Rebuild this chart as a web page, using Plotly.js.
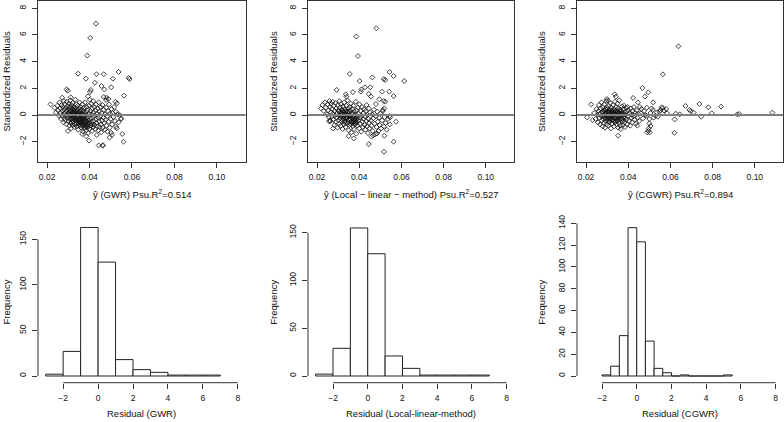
<!DOCTYPE html>
<html><head><meta charset="utf-8">
<script src="https://cdn.plot.ly/plotly-3.0.1.min.js"></script>
<style>html,body{margin:0;padding:0;background:#fff}#chart{width:784px;height:422px}</style>
</head><body><div id="chart"></div>
<script>
// ---------- data: standardized residuals vs fitted (x = y-hat, y = std residual) ----------
const gwrOutliers = [[0.0430,6.85],[0.0403,5.78],[0.0389,4.45],[0.0346,3.1],[0.0383,2.72],[0.0433,3.06],[0.0467,3.06],[0.0537,3.23],[0.0584,2.78],[0.0589,2.7],[0.0510,2.72],[0.0425,2.42],[0.0456,2.18],[0.0502,2.08],[0.0470,1.92],[0.0406,1.88],[0.0402,1.73],[0.0292,1.92],[0.0298,1.82],[0.0562,1.45],[0.0480,1.3],[0.0489,1.2],[0.0478,1.12],[0.0271,1.3],[0.0311,1.33],[0.0522,1.0],[0.0529,0.88],[0.0216,0.8],[0.0467,1.35],[0.0443,-2.28],[0.0462,-2.3],[0.0463,-2.25],[0.0560,-2.0],[0.0554,-1.42],[0.0506,-1.5],[0.0502,-1.33],[0.0398,-1.92],[0.0494,-1.68],[0.0549,-0.25],[0.0525,-0.88],[0.0385,-1.6],[0.0393,-1.35],[0.0365,-1.42]];
const gwrCluster = [[0.0235,0.55],[0.0242,0.2],[0.0248,0.7],[0.0251,0.35],[0.0255,-0.05],[0.0258,0.95],[0.0262,0.5],[0.0264,0.15],[0.0266,-0.3],[0.0268,0.75],
[0.0271,0.3],[0.0273,-0.1],[0.0274,0.6],[0.0276,0.05],[0.0277,-0.55],[0.0279,1.05],[0.0281,0.4],[0.0282,-0.25],[0.0283,0.8],[0.0285,0.15],[0.0286,-0.4],[0.0287,0.55],[0.0289,-0.05],[0.0291,-0.7],[0.0292,0.3],[0.0293,1.0],[0.0295,-0.2],[0.0296,0.65],[0.0298,-1.2],[0.0299,0.1],
[0.0300,0.45],[0.0301,-0.45],[0.0302,0.85],[0.0303,-0.1],[0.0304,0.2],[0.0305,-0.8],[0.0306,0.6],[0.0307,0.0],[0.0308,-0.3],[0.0309,1.1],[0.0310,0.35],[0.0311,-0.6],[0.0312,0.1],[0.0313,-1.0],[0.0314,0.75],[0.0315,-0.2],[0.0316,0.5],[0.0317,-0.4],[0.0318,0.25],[0.0319,-0.05],[0.0320,0.9],[0.0321,-0.75],[0.0322,0.4],[0.0323,-0.25],[0.0324,0.05],[0.0325,0.65],[0.0326,-0.5],[0.0327,0.15],[0.0328,-0.9],[0.0329,0.3],
[0.0330,-0.15],[0.0331,0.55],[0.0332,-0.4],[0.0333,1.15],[0.0334,0.0],[0.0335,-0.65],[0.0336,0.25],[0.0337,-0.3],[0.0338,0.8],[0.0339,-0.05],[0.0340,-0.85],[0.0341,0.4],[0.0342,-0.2],[0.0343,0.1],[0.0344,-0.55],[0.0345,0.7],[0.0346,-1.1],[0.0347,-0.35],[0.0348,0.2],[0.0349,-0.7],[0.0350,0.5],[0.0351,-0.1],[0.0352,-0.45],[0.0353,0.95],[0.0354,0.05],[0.0355,-0.8],[0.0356,0.3],[0.0357,-0.25],[0.0358,-0.6],[0.0359,0.6],
[0.0360,-0.95],[0.0361,0.15],[0.0362,-0.4],[0.0363,0.4],[0.0364,-0.15],[0.0365,-0.7],[0.0366,0.8],[0.0367,-0.3],[0.0368,0.05],[0.0369,-1.25],[0.0370,-0.55],[0.0371,0.3],[0.0372,-0.85],[0.0373,-0.1],[0.0374,0.55],[0.0375,-0.45],[0.0376,-1.0],[0.0377,0.1],[0.0378,-0.65],[0.0379,0.95],[0.0380,-0.3],[0.0381,-0.8],[0.0382,0.25],[0.0383,-0.5],[0.0384,-1.15],[0.0385,0.0],[0.0386,0.6],[0.0387,-0.75],[0.0388,-0.2],[0.0389,-0.95],
[0.0390,0.35],[0.0392,-0.6],[0.0393,1.4],[0.0394,-0.1],[0.0395,-0.85],[0.0397,0.7],[0.0398,-0.4],[0.0399,0.1],[0.0400,-1.05],[0.0401,1.15],[0.0402,-0.65],[0.0404,0.3],[0.0405,-0.25],[0.0406,-0.8],[0.0408,0.85],[0.0409,-0.5],[0.0410,0.05],[0.0412,-1.2],[0.0413,0.5],[0.0414,-0.7],[0.0416,-0.15],[0.0417,1.05],[0.0418,-0.9],[0.0419,0.2],
[0.0420,-0.45],[0.0422,0.6],[0.0424,-0.75],[0.0425,-0.05],[0.0427,-1.05],[0.0428,0.35],[0.0430,-0.3],[0.0431,0.8],[0.0433,-0.6],[0.0434,-1.5],[0.0436,0.1],[0.0437,-0.85],[0.0439,0.5],[0.0440,-0.2],[0.0442,-1.15],[0.0443,0.95],[0.0445,-0.5],[0.0446,0.25],[0.0448,-0.9],[0.0450,-0.1],[0.0452,0.6],[0.0453,-0.7],[0.0455,-1.3],[0.0457,0.15],[0.0459,-0.4],
[0.0461,0.75],[0.0463,-0.95],[0.0465,-0.2],[0.0467,0.4],[0.0469,-0.6],[0.0471,-1.1],[0.0473,0.05],[0.0476,-0.35],[0.0478,0.55],[0.0480,-0.8],[0.0483,-0.1],[0.0485,-1.25],[0.0487,0.3],[0.0490,-0.5],[0.0492,0.8],[0.0495,-0.95],[0.0497,0.1],[0.0500,-0.3],[0.0503,0.45],[0.0506,-0.7],[0.0509,0.15],[0.0512,-0.15],[0.0516,0.6],[0.0520,-0.45],[0.0524,0.25],[0.0528,-1.0],[0.0532,0.05],[0.0537,-0.55],[0.0542,0.0],[0.0548,-0.3],
[0.0305,0.05],[0.0308,0.3],[0.0312,-0.35],[0.0316,0.0],[0.0318,-0.55],[0.0322,0.15],[0.0325,-0.15],[0.0328,0.45],[0.0331,-0.7],[0.0333,-0.25],[0.0336,0.1],[0.0339,-0.45],[0.0342,0.35],[0.0344,-0.05],[0.0347,-0.6],[0.0350,0.15],[0.0352,-0.3],[0.0355,-0.55],[0.0358,0.05],[0.0361,-0.6],[0.0364,-0.35],[0.0367,-0.8],[0.0370,-0.2],[0.0373,-0.6],[0.0376,-0.35],[0.0380,-0.6],[0.0383,-0.85],[0.0386,-0.45],[0.0390,-0.7],[0.0395,-0.55]];

const llmOutliers = [[0.0481,6.5],[0.0386,5.88],[0.0394,4.42],[0.0355,3.08],[0.0544,3.22],[0.0563,2.92],[0.0613,2.55],[0.0402,2.55],[0.0462,2.82],[0.0516,2.7],[0.0523,2.63],[0.0427,2.08],[0.0452,2.08],[0.0293,1.88],[0.0508,1.75],[0.0542,1.75],[0.0410,1.92],[0.0408,1.75],[0.0370,1.72],[0.0563,1.42],[0.0445,1.58],[0.0456,1.38],[0.0336,1.55],[0.0339,1.38],[0.0495,1.18],[0.0516,1.05],[0.0524,1.0],[0.0479,0.82],[0.0519,0.5],[0.0512,0.38],[0.0574,-0.5],[0.0544,-0.08],[0.0546,-0.18],[0.0563,-2.0],[0.0445,-2.18],[0.0517,-2.75],[0.0519,-1.55],[0.0458,-1.62],[0.0466,-1.52],[0.0484,-1.38],[0.0374,-1.75],[0.0350,-1.58],[0.0276,-1.0],[0.0260,-0.4],[0.0258,-0.48]];
const llmCluster = [[0.0218,0.5],[0.0225,0.75],[0.0232,0.3],[0.0238,0.95],[0.0242,0.55],[0.0246,0.05],[0.0250,0.8],[0.0253,0.35],[0.0256,-0.15],[0.0259,1.05],[0.0261,0.6],[0.0263,-0.45],[0.0265,0.2],[0.0267,0.85],[0.0269,-0.1],
[0.0271,0.45],[0.0273,1.0],[0.0275,0.1],[0.0277,-0.35],[0.0279,0.7],[0.0281,-0.75],[0.0283,0.3],[0.0285,-0.05],[0.0287,0.9],[0.0289,-0.5],[0.0291,0.5],[0.0293,-0.2],[0.0295,0.15],[0.0297,-0.95],[0.0299,0.75],
[0.0300,-0.4],[0.0302,0.35],[0.0303,0.0],[0.0305,1.05],[0.0306,-0.65],[0.0308,0.55],[0.0309,-0.25],[0.0311,0.2],[0.0312,-0.8],[0.0314,0.8],[0.0315,-0.1],[0.0317,0.4],[0.0318,-0.5],[0.0320,0.05],[0.0321,-1.05],[0.0323,0.65],[0.0324,-0.3],[0.0326,0.25],[0.0327,-0.7],[0.0329,0.95],
[0.0330,-0.05],[0.0332,0.45],[0.0333,-0.45],[0.0335,0.1],[0.0336,-0.9],[0.0338,0.7],[0.0339,-0.2],[0.0341,0.3],[0.0342,-0.6],[0.0344,1.1],[0.0345,0.0],[0.0347,-0.35],[0.0348,0.5],[0.0350,-1.15],[0.0351,-0.1],[0.0353,0.2],[0.0354,-0.75],[0.0356,0.6],[0.0357,-0.4],[0.0359,-0.05],
[0.0360,0.85],[0.0362,-0.55],[0.0363,-1.3],[0.0365,0.15],[0.0366,-0.25],[0.0368,0.45],[0.0369,-0.85],[0.0371,-0.1],[0.0372,0.7],[0.0374,-0.5],[0.0375,-1.05],[0.0377,0.25],[0.0378,-0.3],[0.0380,-0.7],[0.0381,0.05],[0.0383,1.0],[0.0384,-0.45],[0.0386,-1.4],[0.0387,0.35],[0.0389,-0.15],
[0.0391,-0.8],[0.0393,0.55],[0.0395,-0.4],[0.0397,0.1],[0.0399,-1.0],[0.0401,0.8],[0.0403,-0.2],[0.0405,-0.65],[0.0407,0.3],[0.0409,-1.25],[0.0411,-0.05],[0.0413,0.6],[0.0415,-0.5],[0.0417,-0.9],[0.0419,0.15],
[0.0421,-0.3],[0.0423,0.45],[0.0425,-0.75],[0.0427,-0.1],[0.0429,-1.1],[0.0431,0.3],[0.0433,-0.45],[0.0435,0.75],[0.0437,-0.85],[0.0439,0.0],[0.0441,-1.35],[0.0443,-0.3],[0.0445,0.5],[0.0447,-0.6],[0.0449,-1.0],
[0.0452,0.2],[0.0455,-0.4],[0.0458,-0.8],[0.0461,0.05],[0.0464,-1.2],[0.0467,-0.25],[0.0470,0.4],[0.0473,-0.65],[0.0476,-1.45],[0.0479,-0.1],[0.0482,-0.9],[0.0485,0.25],[0.0488,-0.5],[0.0491,-1.2],[0.0494,-0.2],[0.0497,-0.75],[0.0500,0.1],[0.0504,-1.0],[0.0508,-0.4],[0.0512,0.3],[0.0516,-0.85],[0.0520,-0.15],[0.0525,-0.6],[0.0530,-1.1],[0.0536,-0.3],[0.0545,-0.7],
[0.0304,0.25],[0.0310,-0.05],[0.0316,0.15],[0.0319,-0.35],[0.0322,0.3],[0.0325,-0.15],[0.0328,0.05],[0.0331,-0.55],[0.0334,0.3],[0.0337,-0.3],[0.0340,0.05],[0.0343,-0.2],[0.0346,0.25],[0.0349,-0.55],[0.0352,0.0],[0.0355,-0.25],[0.0358,0.35],[0.0361,-0.7],[0.0364,-0.1],[0.0367,-0.5],[0.0370,0.1],[0.0373,-0.35],[0.0376,-0.6],[0.0379,-0.15],[0.0382,-0.55],[0.0385,-0.3],[0.0388,-0.6],[0.0392,-0.25]];

const cgwrOutliers = [[0.0638,5.15],[0.0564,3.05],[0.0467,2.03],[0.0495,1.7],[0.0479,1.38],[0.0423,1.28],[0.0518,0.95],[0.0446,0.95],[0.0336,1.55],[0.0341,1.38],[0.0299,1.2],[0.0305,1.08],[0.0224,0.8],[0.0737,0.83],[0.0671,0.68],[0.0780,0.58],[0.0840,0.63],[0.0690,0.38],[0.0697,0.3],[0.0710,0.18],[0.0796,0.13],[0.0746,-0.13],[0.1083,0.18],[0.0917,0.05],[0.0926,0.08],[0.0625,0.1],[0.0644,0.05],[0.0620,-0.33],[0.0619,-1.33],[0.0352,-1.55],[0.0495,-1.18],[0.0490,-1.3],[0.0502,-1.3],[0.0497,-1.0],[0.0443,-0.8],[0.0205,-0.18],[0.0231,-0.38],[0.0553,0.38],[0.0569,0.33],[0.0580,0.45],[0.0558,0.58],[0.0564,0.52],[0.0584,0.13],[0.0529,-0.05],[0.0540,-0.13],[0.0510,0.5],[0.0517,0.38],[0.0500,-0.3],[0.0500,-0.63],[0.0506,-0.83],[0.0480,0.0],[0.0486,-0.05],[0.0460,0.13],[0.0432,-0.05],[0.0470,-0.25],[0.0475,0.3],[0.0455,0.6],[0.0462,0.45],[0.0488,0.55],[0.0505,0.15],[0.0520,-0.2],[0.0535,0.2],[0.0548,0.25]];
const cgwrCluster = [[0.0238,0.15],[0.0245,-0.3],[0.0250,0.45],[0.0254,0.0],[0.0257,-0.55],[0.0259,0.3],[0.0261,0.75],[0.0263,-0.2],[0.0265,0.1],[0.0267,-0.7],[0.0269,0.5],[0.0271,-0.05],[0.0273,0.95],[0.0275,-0.4],[0.0276,0.25],[0.0278,-0.85],[0.0279,0.6],[0.0281,0.0],[0.0282,-0.3],[0.0284,0.35],
[0.0285,-0.6],[0.0286,0.8],[0.0288,0.1],[0.0289,-0.15],[0.0290,-0.95],[0.0292,0.45],[0.0293,-0.45],[0.0294,0.2],[0.0296,1.05],[0.0297,-0.1],[0.0298,-0.7],[0.0300,0.55],[0.0301,0.05],[0.0302,-0.35],[0.0304,0.3],[0.0305,-0.8],[0.0306,0.7],[0.0308,-0.2],[0.0309,0.15],[0.0310,-0.55],
[0.0312,0.4],[0.0313,-0.05],[0.0314,0.9],[0.0316,-0.4],[0.0317,0.2],[0.0318,-1.0],[0.0320,0.55],[0.0321,-0.25],[0.0322,0.05],[0.0324,-0.65],[0.0325,0.35],[0.0326,-0.1],[0.0328,0.75],[0.0329,-0.45],[0.0330,0.15],[0.0332,-0.85],[0.0333,0.45],[0.0334,-0.2],[0.0336,0.0],[0.0337,1.0],
[0.0338,-0.55],[0.0340,0.3],[0.0341,-0.3],[0.0342,0.6],[0.0344,-0.7],[0.0345,0.1],[0.0346,-0.15],[0.0348,0.85],[0.0349,-0.45],[0.0350,0.25],[0.0352,-0.95],[0.0353,0.5],[0.0354,-0.1],[0.0356,-0.6],[0.0357,0.15],[0.0358,1.1],[0.0360,-0.35],[0.0361,0.4],[0.0362,-0.8],[0.0364,0.0],
[0.0365,-1.05],[0.0367,0.3],[0.0368,-0.25],[0.0370,0.65],[0.0371,-0.5],[0.0373,0.1],[0.0375,-0.75],[0.0376,0.45],[0.0378,-0.15],[0.0380,0.7],[0.0382,-0.55],[0.0383,0.2],[0.0385,-0.9],[0.0387,0.0],[0.0389,0.55],[0.0391,-0.35],[0.0393,0.25],[0.0395,-0.7],[0.0397,0.6],[0.0399,-0.1],
[0.0401,0.35],[0.0404,-0.45],[0.0406,0.15],[0.0409,-0.8],[0.0411,0.5],[0.0414,-0.2],[0.0416,0.05],[0.0419,-0.55],[0.0421,0.3],[0.0424,-0.1],[0.0427,0.6],[0.0430,-0.35],[0.0433,0.15],[0.0436,-0.65],[0.0440,0.35],[0.0444,-0.2],[0.0448,0.1],[0.0452,-0.45],
[0.0280,0.2],[0.0283,-0.1],[0.0287,0.35],[0.0290,0.05],[0.0293,-0.25],[0.0296,0.4],[0.0299,0.1],[0.0302,-0.15],[0.0305,0.2],[0.0308,-0.45],[0.0311,0.05],[0.0314,-0.25],[0.0317,0.35],[0.0320,-0.1],[0.0323,0.2],[0.0326,-0.35],[0.0329,0.05],[0.0332,0.3],[0.0335,-0.2],[0.0338,0.1],[0.0341,-0.45],[0.0344,0.25],[0.0347,-0.05],[0.0350,-0.3],[0.0353,0.1],[0.0356,-0.2],[0.0359,0.3],[0.0362,-0.05],[0.0366,0.15],[0.0370,-0.3],[0.0374,0.0],[0.0378,-0.4],[0.0382,0.05],[0.0386,-0.2]];

// ---------- histogram data ----------
const gwrBinStart = [-3,-2,-1,0,1,2,3,4,5,6];
const gwrCounts   = [2,27,163,125,18,7,4,1,1,1];
const llmBinStart = [-3,-2,-1,0,1,2,3,4,5,6];
const llmCounts   = [2,29,155,128,21,8,1,1,1,1];
const cgwrBinStart = [-2,-1.5,-1,-0.5,0,0.5,1,1.5,2,2.5,3,3.5,4,4.5,5];
const cgwrCounts   = [1,9,37,136,123,32,7,3,0,1,0,0,0,0,1];

// ---------- labels ----------
const scatterXTitles = ['ŷ (GWR) Psu.R<sup>2</sup>=0.514','ŷ (Local − linear − method) Psu.R<sup>2</sup>=0.527','ŷ (CGWR) Psu.R<sup>2</sup>=0.894'];
const histXTitles = ['Residual (GWR)','Residual (Local-linear-method)','Residual (CGWR)'];
const scatterYTitle = 'Standardized Residuals';
const histYTitle = 'Frequency';
const scatterXTicks = [0.02,0.04,0.06,0.08,0.10];
const scatterXTickText = ['0.02','0.04','0.06','0.08','0.10'];
const scatterYTicks = [-2,0,2,4,6,8];
const histXTicks = [-2,0,2,4,6,8];
const histYTicks = [[0,50,100,150],[0,50,100,150],[0,20,40,60,80,100,120,140]];

// ---------- layout geometry (pixels) ----------
const W = 784, H = 422;
const cols = [[38,245.5],[308,514.3],[577,783.3]];
const row1 = [0.8,162], row2 = [221,382.7];
const yTitleX = [5.5,272.7,540.7];
const FONT = 'Liberation Sans, Arial, Helvetica, sans-serif';
const dX = c => [c[0]/W, c[1]/W];
const dY = r => [1 - r[1]/H, 1 - r[0]/H];
const histYRanges = [[-7.35,170.1],[-7.0,162.3],[-6.14,142.1]];

const scatterSets = [gwrCluster.concat(gwrOutliers), llmCluster.concat(llmOutliers), cgwrCluster.concat(cgwrOutliers)];
const hists = [[gwrBinStart,gwrCounts,1],[llmBinStart,llmCounts,1],[cgwrBinStart,cgwrCounts,0.5]];

const data = [];
const layout = {
  width: W, height: H, margin: {l:0,r:0,t:0,b:0},
  paper_bgcolor: '#fff', plot_bgcolor: '#fff', showlegend: false,
  font: {family: FONT, color: '#000', size: 8},
  shapes: [], annotations: []
};

const tickFont = {family: FONT, size: 8.5, color: '#111'};
for (let i = 0; i < 3; i++) {
  const sx = 'x' + (i+1), sy = 'y' + (i+1);
  const hx = 'x' + (i+4), hy = 'y' + (i+4);
  const pts = scatterSets[i];
  data.push({type:'scatter', mode:'markers', xaxis:sx, yaxis:sy,
    x: pts.map(p=>p[0]), y: pts.map(p=>p[1]),
    marker:{symbol:'diamond-open', size:3.8, color:'#111', line:{width:0.8, color:'#111'}}, hoverinfo:'skip'});
  const hb = hists[i];
  data.push({type:'bar', xaxis:hx, yaxis:hy, x: hb[0], y: hb[1], width: hb[2], offset: 0,
    marker:{color:'#fff', line:{color:'#222', width:1}}, hoverinfo:'skip'});

  const ks = i===0 ? '' : String(i+1);
  const kh = String(i+4);
  layout['xaxis'+ks] = {domain:dX(cols[i]), anchor:sy, range:[0.0157,0.1135], showgrid:false, zeroline:false,
    showline:true, mirror:true, linecolor:'#333', linewidth:1, ticks:'outside', ticklen:5, tickcolor:'#333', tickwidth:1,
    tickvals:scatterXTicks, ticktext:scatterXTickText, tickfont:tickFont, ticklabelstandoff:2};
  layout['yaxis'+ks] = {domain:dY(row1), anchor:sx, range:[-3.52,8.56], showgrid:false, zeroline:false,
    showline:true, mirror:true, linecolor:'#333', linewidth:1, ticks:'outside', ticklen:5, tickcolor:'#333', tickwidth:1,
    tickvals:scatterYTicks, tickangle:-90, tickfont:tickFont, ticklabelstandoff:3};
  layout['xaxis'+kh] = {domain:dX(cols[i]), anchor:hy, range:[-3.44,8.44], showgrid:false, zeroline:false,
    showline:false, ticks:'outside', ticklen:5, tickcolor:'#333', tickwidth:1,
    tickvals:histXTicks, tickfont:tickFont, ticklabelstandoff:2};
  layout['yaxis'+kh] = {domain:dY(row2), anchor:hx, range:histYRanges[i], showgrid:false, zeroline:false,
    showline:false, ticks:'outside', ticklen:5, tickcolor:'#333', tickwidth:1,
    tickvals:histYTicks[i], tickangle:-90, tickfont:tickFont, ticklabelstandoff:3};

  layout.shapes.push({type:'line', xref:sx+' domain', yref:sy, x0:0, x1:1, y0:0, y1:0, line:{color:'#808080', width:2}});
  layout.shapes.push({type:'line', xref:hx, yref:hy+' domain', x0:histXTicks[0], x1:histXTicks[histXTicks.length-1], y0:0, y1:0, line:{color:'#333', width:1}});
  const yt = histYTicks[i];
  layout.shapes.push({type:'line', xref:hx+' domain', yref:hy, x0:0, x1:0, y0:yt[0], y1:yt[yt.length-1], line:{color:'#333', width:1}});

  const cx = (cols[i][0]+cols[i][1])/2/W;
  const tf = {family:FONT, size:9.5, color:'#111'};
  layout.annotations.push({xref:'paper', yref:'paper', x:cx, y:1-194/H, text:scatterXTitles[i], showarrow:false, font:tf, xanchor:'center', yanchor:'middle'});
  layout.annotations.push({xref:'paper', yref:'paper', x:cx, y:1-413/H, text:histXTitles[i], showarrow:false, font:tf, xanchor:'center', yanchor:'middle'});
  layout.annotations.push({xref:'paper', yref:'paper', x:yTitleX[i]/W, y:1-81/H, text:scatterYTitle, textangle:-90, showarrow:false, font:tf, xanchor:'center', yanchor:'middle'});
  layout.annotations.push({xref:'paper', yref:'paper', x:yTitleX[i]/W, y:1-302/H, text:histYTitle, textangle:-90, showarrow:false, font:tf, xanchor:'center', yanchor:'middle'});
}

Plotly.newPlot('chart', data, layout, {staticPlot:true, displayModeBar:false});
</script>
</body></html>
